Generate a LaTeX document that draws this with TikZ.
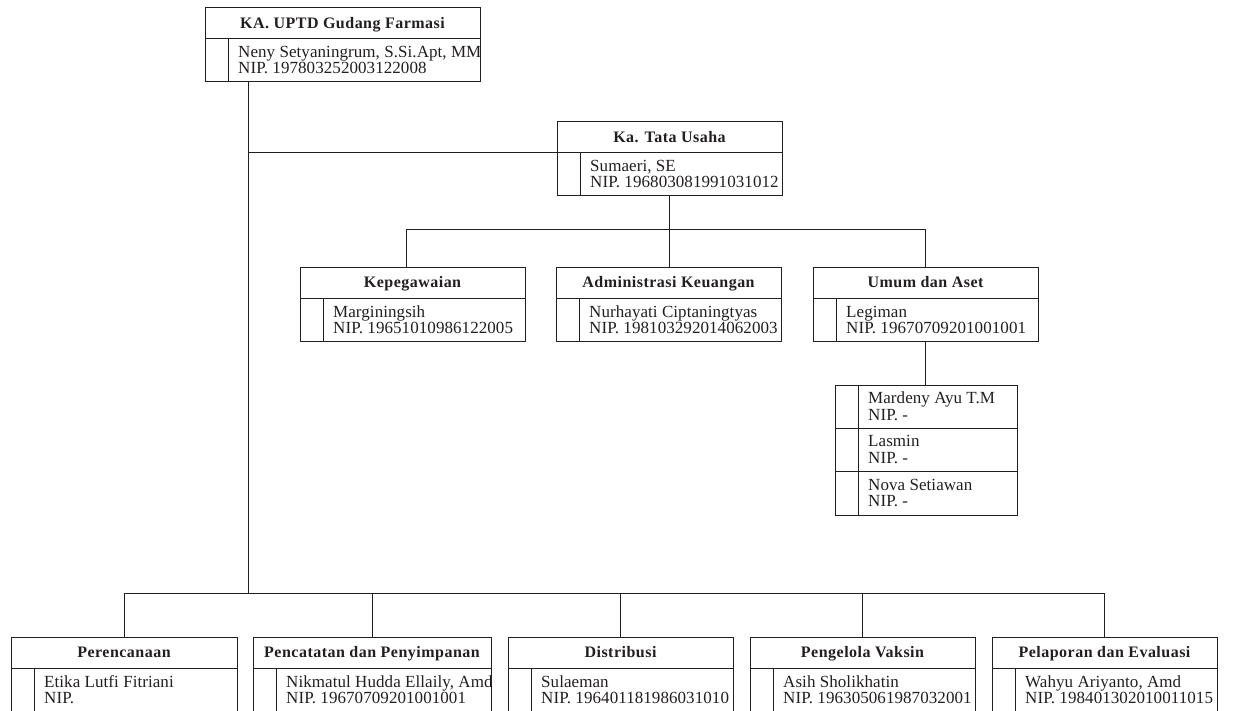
\documentclass[tikz,border=0pt]{standalone}
\usepackage{fontspec}
\setmainfont{Liberation Serif}
\newfontfamily\headfont[LetterSpace=3]{Liberation Serif}
\newfontfamily\bodyfont[LetterSpace=0.4]{Liberation Serif}
\definecolor{ink}{HTML}{231F20}
\tikzset{
  rule/.style={draw=ink, line width=1pt},
  unitframe/.style={rule, rectangle, inner sep=0pt, outer sep=0pt, minimum height=74pt},
  headtext/.style={anchor=base, inner sep=0pt, text=ink, font=\headfont\fontsize{16}{18}\selectfont\bfseries},
  bodytext/.style={anchor=base west, inner sep=0pt, text=ink, font=\bodyfont\fontsize{17}{18}\selectfont},
}
% One unit: bold title row, then a name / NIP row with a narrow left cell
% #1 name, #2 left, #3 top, #4 width, #5 title, #6 person, #7 NIP
\newcommand{\unitbox}[7]{%
  \node[unitframe, minimum width=#4pt, anchor=north west] (#1) at (#2,#3) {};
  \draw[rule] ([yshift=-31pt]#1.north west) coordinate (#1-div) -- ([yshift=-31pt]#1.north east);
  \draw[rule] ([xshift=23pt]#1-div) -- ([xshift=23pt]#1.south west);
  \node[headtext] (#1-head) at ([yshift=-20.5pt]#1.north) {#5};
  \node[bodytext] (#1-name) at ([xshift=33pt,yshift=-19pt]#1-div) {#6};
  \node[bodytext] (#1-nip) at ([xshift=33pt,yshift=-35pt]#1-div) {#7};
}
\begin{document}
\begin{tikzpicture}[x=1pt,y=-1pt]
\useasboundingbox[fill=white] (0,0) rectangle (1233,711);

% head of office
\unitbox{ka}{205}{8}{275}{KA. UPTD Gudang Farmasi}{Neny Setyaningrum, S.Si.Apt, MM}{NIP. 197803252003122008}

% administration branch
\unitbox{tu}{557}{122}{225}{Ka. Tata Usaha}{Sumaeri, SE}{NIP. 196803081991031012}
\unitbox{kep}{300}{267}{225}{Kepegawaian}{Marginingsih}{NIP. 19651010986122005}
\unitbox{keu}{556}{267}{225}{Administrasi Keuangan}{Nurhayati Ciptaningtyas}{NIP. 198103292014062003}
\unitbox{umum}{813}{267}{225}{Umum dan Aset}{Legiman}{NIP. 19670709201001001}

% staff under Umum dan Aset
\node[rule, rectangle, inner sep=0pt, outer sep=0pt, minimum width=182pt, minimum height=130pt, anchor=north west] (staff) at (835,385) {};
\draw[rule] ([yshift=-43.3pt]staff.north west) coordinate (staff-r2) -- ([yshift=-43.3pt]staff.north east);
\draw[rule] ([yshift=-86.7pt]staff.north west) coordinate (staff-r3) -- ([yshift=-86.7pt]staff.north east);
\draw[rule] ([xshift=23pt]staff.north west) -- ([xshift=23pt]staff.south west);
\node[bodytext] (s1-name) at ([xshift=33pt,yshift=-18.5pt]staff.north west) {Mardeny Ayu T.M};
\node[bodytext] (s1-nip) at ([xshift=33pt,yshift=-35pt]staff.north west) {NIP. -};
\node[bodytext] (s2-name) at ([xshift=33pt,yshift=-18.5pt]staff-r2) {Lasmin};
\node[bodytext] (s2-nip) at ([xshift=33pt,yshift=-35pt]staff-r2) {NIP. -};
\node[bodytext] (s3-name) at ([xshift=33pt,yshift=-18.5pt]staff-r3) {Nova Setiawan};
\node[bodytext] (s3-nip) at ([xshift=33pt,yshift=-35pt]staff-r3) {NIP. -};

% technical sections
\unitbox{ren}{11}{637}{226}{Perencanaan}{Etika Lutfi Fitriani}{NIP.}
\unitbox{cat}{253}{637}{238}{Pencatatan dan Penyimpanan}{Nikmatul Hudda Ellaily, Amd}{NIP. 19670709201001001}
\unitbox{dis}{508}{637}{225}{Distribusi}{Sulaeman}{NIP. 196401181986031010}
\unitbox{vak}{750}{637}{225}{Pengelola Vaksin}{Asih Sholikhatin}{NIP. 196305061987032001}
\unitbox{lap}{992}{637}{225}{Pelaporan dan Evaluasi}{Wahyu Ariyanto, Amd}{NIP. 198401302010011015}

% connectors
\coordinate (trunk) at (248,0);
\coordinate (busA) at (0,230);
\coordinate (busB) at (0,593);
\draw[rule] (ka.south -| trunk) |- (tu-div);
\draw[rule] (ka.south -| trunk) -- (trunk |- busB);
\draw[rule] ([xshift=-6.5pt]kep.north) |- (umum.north |- busA) -- (umum.north);
\draw[rule] (tu.south) -- (tu.south |- keu.north);
\draw[rule] (umum.south) -- (umum.south |- staff.north);
\draw[rule] (ren.north) |- (lap.north |- busB) -- (lap.north);
\draw[rule] (cat.north) -- (cat.north |- busB);
\draw[rule] (dis.north) -- (dis.north |- busB);
\draw[rule] (vak.north) -- (vak.north |- busB);
\end{tikzpicture}
\end{document}
